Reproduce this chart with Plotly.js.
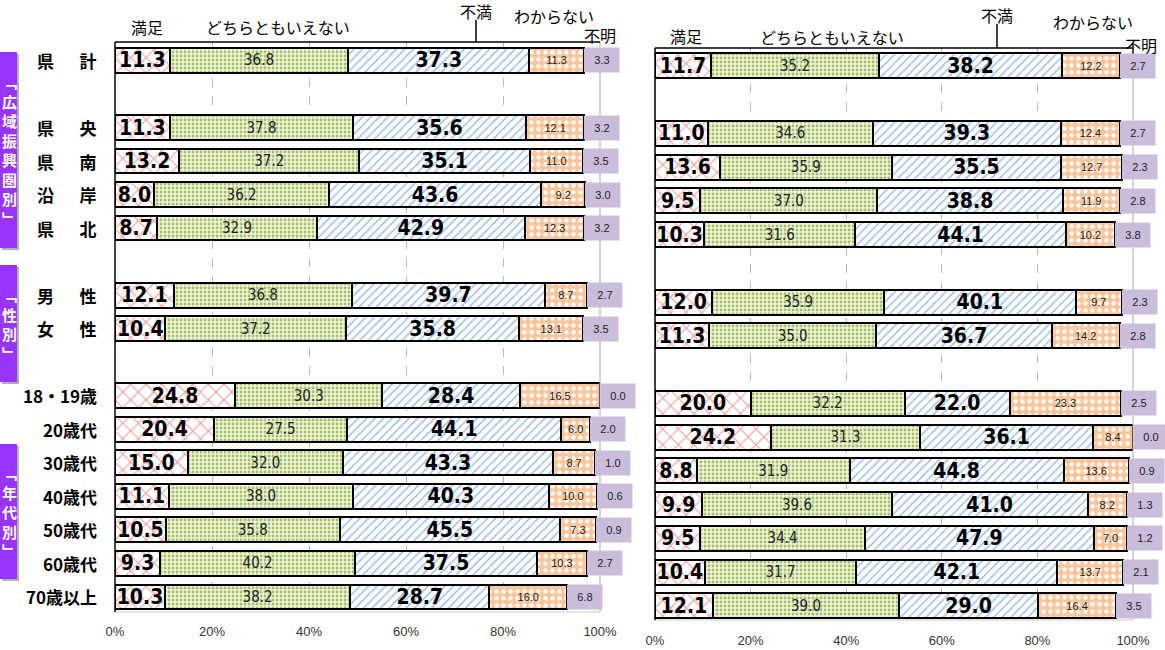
<!DOCTYPE html>
<html>
<head>
<meta charset="utf-8">
<script src="https://cdn.plot.ly/plotly-3.0.1.min.js"></script>
<style>html,body{margin:0;padding:0;background:#fff;}#chart{width:1165px;height:650px;}</style>
</head>
<body>
<div id="chart"></div>
<script>
// ---- data ----
const groups = [
  ['県　計'],
  ['県　央','県　南','沿　岸','県　北'],
  ['男　性','女　性'],
  ['18・19歳','20歳代','30歳代','40歳代','50歳代','60歳代','70歳以上']
];
const groupTitles = ['「広域振興圏別」','「性別」','「年代別」'];
const seriesNames = ['満足','どちらともいえない','不満','わからない','不明'];
const xTicks = [0,20,40,60,80,100];

const leftSatisfied   = [11.3,11.3,13.2,8.0,8.7,12.1,10.4,24.8,20.4,15.0,11.1,10.5,9.3,10.3];
const leftNeutral     = [36.8,37.8,37.2,36.2,32.9,36.8,37.2,30.3,27.5,32.0,38.0,35.8,40.2,38.2];
const leftDissatisfied= [37.3,35.6,35.1,43.6,42.9,39.7,35.8,28.4,44.1,43.3,40.3,45.5,37.5,28.7];
const leftDontKnow    = [11.3,12.1,11.0,9.2,12.3,8.7,13.1,16.5,6.0,8.7,10.0,7.3,10.3,16.0];
const leftUnknown     = [3.3,3.2,3.5,3.0,3.2,2.7,3.5,0.0,2.0,1.0,0.6,0.9,2.7,6.8];

const rightSatisfied   = [11.7,11.0,13.6,9.5,10.3,12.0,11.3,20.0,24.2,8.8,9.9,9.5,10.4,12.1];
const rightNeutral     = [35.2,34.6,35.9,37.0,31.6,35.9,35.0,32.2,31.3,31.9,39.6,34.4,31.7,39.0];
const rightDissatisfied= [38.2,39.3,35.5,38.8,44.1,40.1,36.7,22.0,36.1,44.8,41.0,47.9,42.1,29.0];
const rightDontKnow    = [12.2,12.4,12.7,11.9,10.2,9.7,14.2,23.3,8.4,13.6,8.2,7.0,13.7,16.4];
const rightUnknown     = [2.7,2.7,2.3,2.8,3.8,2.3,2.8,2.5,0.0,0.9,1.3,1.2,2.1,3.5];

// ---- layout helpers ----
const W = 1165, H = 650;
const px = v => v / W;
const py = v => 1 - v / H;

const categories = [];
const rowPos = [];
let p = 0;
groups.forEach((g) => {
  g.forEach(c => { categories.push(c); rowPos.push(p); p++; });
  p++; // blank row between groups
});

const JP = '"Noto Sans CJK JP", sans-serif';
const NUM_BOLD = '"Liberation Sans Narrow", "DejaVu Sans Condensed", "Noto Sans CJK JP", sans-serif';

const styles = [
  {pattern:{shape:'x', fgcolor:'#f29a9a', bgcolor:'#ffffff', size:11, solidity:0.18, fillmode:'replace'},
   font:{family:NUM_BOLD, size:21, color:'#000', weight:'bold'}},
  {pattern:{shape:'.', fgcolor:'#a3c065', bgcolor:'#eff5de', size:4, solidity:0.4, fillmode:'replace'},
   font:{family:NUM_BOLD, size:15, color:'#222'}},
  {pattern:{shape:'/', fgcolor:'#9dbde6', bgcolor:'#ffffff', size:6, solidity:0.25, fillmode:'replace'},
   font:{family:NUM_BOLD, size:21, color:'#000', weight:'bold'}},
  {pattern:{shape:'.', fgcolor:'#ffffff', bgcolor:'#fbc69c', size:7, solidity:0.3, fillmode:'replace'},
   font:{family:'"Liberation Sans", Arial, sans-serif', size:11, color:'#222'}},
];
const UNK_COLOR = '#c9bddb';

function panelTraces(series, xa, ya) {
  const traces = [];
  for (let i = 0; i < 4; i++) {
    traces.push({
      type:'bar', orientation:'h', name: seriesNames[i],
      x: series[i], y: rowPos, xaxis: xa, yaxis: ya,
      width: 0.74,
      marker:{color: styles[i].pattern.bgcolor, pattern: styles[i].pattern, line:{color:'#000', width:2}},
      text: series[i].map(v => v.toFixed(1)),
      textposition:'inside', insidetextanchor:'middle', constraintext:'none', textangle:0,
      textfont: styles[i].font,
      hoverinfo:'skip', showlegend:false, cliponaxis:false
    });
  }
  traces.push({
    type:'bar', orientation:'h', name: seriesNames[4],
    x: series[4], y: rowPos, xaxis: xa, yaxis: ya, width: 0.7,
    marker:{color: UNK_COLOR, line:{width:0}},
    hoverinfo:'skip', showlegend:false
  });
  return traces;
}

function unknownBoxes(series, xa, ya) {
  return rowPos.map((y, i) => {
    const start = series[0][i] + series[1][i] + series[2][i] + series[3][i];
    return {
      xref: xa, yref: ya, x: Math.min(start, 100), y: y, xanchor:'left', yanchor:'middle',
      text: series[4][i].toFixed(1), showarrow:false, bgcolor: UNK_COLOR,
      width: 32, height: 22, align:'center',
      font:{family:'"Liberation Sans", Arial, sans-serif', size:11, color:'#222'}
    };
  });
}

const leftSeries = [leftSatisfied, leftNeutral, leftDissatisfied, leftDontKnow, leftUnknown];
const rightSeries = [rightSatisfied, rightNeutral, rightDissatisfied, rightDontKnow, rightUnknown];

const data = [...panelTraces(leftSeries, 'x', 'y'), ...panelTraces(rightSeries, 'x2', 'y2')];

const xaxisBase = {
  range:[0,100], tickvals:xTicks, ticktext: xTicks.map(t => t + '%'),
  showgrid:true, gridcolor:'#b8b8b8', griddash:'dash', gridwidth:1,
  zeroline:false, showline:false, ticks:'',
  tickfont:{family:'"Liberation Sans", Arial, sans-serif', size:13, color:'#333'},
  fixedrange:true
};
const yaxisBase = { showticklabels:false, showgrid:false, zeroline:false, ticks:'', fixedrange:true };

const annotations = [];
// row labels (left)
categories.forEach((c, i) => {
  annotations.push({xref:'paper', yref:'y', x:px(99), y:rowPos[i], xanchor:'right', yanchor:'middle',
    text:c.replace('　', '\u2003\u2002'), showarrow:false, font:{family:JP, size:17, color:'#000', weight:'bold'}});
});
// unknown boxes
annotations.push(...unknownBoxes(leftSeries, 'x', 'y'));
annotations.push(...unknownBoxes(rightSeries, 'x2', 'y2'));

// header labels
const headerFont = {family:JP, size:16, color:'#000'};
const headers = [
  [147,27,seriesNames[0]], [278,27,seriesNames[1]], [476,11,seriesNames[2]], [554,16,seriesNames[3]], [600,35,seriesNames[4]],
  [686,36,seriesNames[0]], [832,37,seriesNames[1]], [997,15,seriesNames[2]], [1093,22,seriesNames[3]], [1141,45,seriesNames[4]]
];
headers.forEach(h => annotations.push({xref:'paper', yref:'paper', x:px(h[0]), y:py(h[1]), xanchor:'center', yanchor:'middle',
  text:h[2], showarrow:false, font:headerFont}));

// group side boxes
const sideBoxes = [[52,248],[265,382],[444,579]];
const shapes = [];
sideBoxes.forEach((b, i) => {
  shapes.push({type:'rect', xref:'paper', yref:'paper', x0:px(2), x1:px(19), y0:py(b[1]+2), y1:py(b[0]+2), fillcolor:'#b0b0b0', line:{width:0}, layer:'below'});
  shapes.push({type:'rect', xref:'paper', yref:'paper', x0:0, x1:px(17), y0:py(b[1]), y1:py(b[0]), fillcolor:'#9933ff', line:{width:0}, layer:'below'});
  const t = groupTitles[i];
  const chars = Array.from(t).map(ch => ch === '「' ? '﹁' : (ch === '」' ? '﹂' : ch));
  annotations.push({xref:'paper', yref:'paper', x:px(9), y:py((b[0]+b[1])/2), xanchor:'center', yanchor:'middle',
    text: chars.join('<br>'), showarrow:false, font:{family:JP, size:15, color:'#fff', weight:'bold'}});
});

// frames
function frame(xd, yd) {
  const [x0,x1] = xd, [y0,y1] = yd;
  shapes.push({type:'line', xref:'paper', yref:'paper', x0:x1, x1:x1, y0:y0, y1:y1, line:{color:'#aaaaaa', width:1}});
  shapes.push({type:'line', xref:'paper', yref:'paper', x0:x0, x1:x1, y0:y0, y1:y0, line:{color:'#cccccc', width:1}});
  shapes.push({type:'line', xref:'paper', yref:'paper', x0:x0, x1:x1, y0:y1, y1:y1, line:{color:'#000', width:1.5}});
  shapes.push({type:'line', xref:'paper', yref:'paper', x0:x0, x1:x0, y0:y0, y1:y1, line:{color:'#000', width:1.5}});
}
const xdL = [px(115), px(600)], ydL = [py(612), py(42)];
const xdR = [px(655), px(1133)], ydR = [py(620), py(48)];
frame(xdL, ydL); frame(xdR, ydR);
// pointer lines from 不満 labels
shapes.push({type:'line', xref:'paper', yref:'paper', x0:px(476), x1:px(476), y0:py(20), y1:py(42), line:{color:'#000', width:1.5}});
shapes.push({type:'line', xref:'paper', yref:'paper', x0:px(997), x1:px(997), y0:py(24), y1:py(48), line:{color:'#000', width:1.5}});

const layout = {
  width:W, height:H, margin:{l:0,r:0,t:0,b:0},
  paper_bgcolor:'#fff', plot_bgcolor:'rgba(0,0,0,0)',
  barmode:'stack', showlegend:false,
  xaxis: Object.assign({}, xaxisBase, {domain:xdL, anchor:'y', ticklabelstandoff:10}),
  yaxis: Object.assign({}, yaxisBase, {domain:ydL, range:[16.45,-0.55], anchor:'x'}),
  xaxis2: Object.assign({}, xaxisBase, {domain:xdR, anchor:'y2', ticklabelstandoff:11}),
  yaxis2: Object.assign({}, yaxisBase, {domain:ydR, range:[16.42,-0.53], anchor:'x2'}),
  annotations, shapes
};

Plotly.newPlot('chart', data, layout, {staticPlot:true, displayModeBar:false});
</script>
</body>
</html>
